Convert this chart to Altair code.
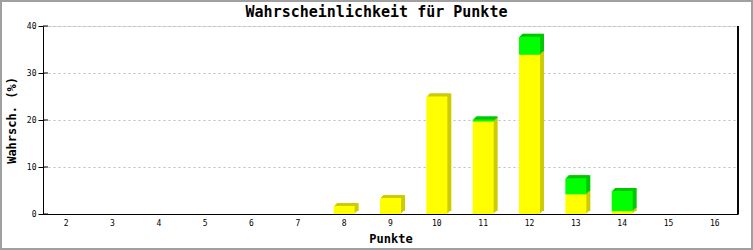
import altair as alt
import pandas as pd

chart_title = "Wahrscheinlichkeit für Punkte"
points = [str(p) for p in range(2, 17)]
yellow = [0, 0, 0, 0, 0, 0, 1.7, 3.4, 25.0, 19.7, 33.9, 4.2, 0.6, 0, 0]
green = [0, 0, 0, 0, 0, 0, 0, 0, 0, 0.4, 3.8, 3.4, 4.3, 0, 0]
y_ticks = [0, 10, 20, 30, 40]

rows = []
for p, yv, gv in zip(points, yellow, green):
    if yv > 0:
        rows.append({"p": p, "s": "gelb", "lo": 0.0, "hi": yv})
    if gv > 0:
        rows.append({"p": p, "s": "grün", "lo": yv, "hi": yv + gv})
df = pd.DataFrame(rows)
ticks_df = pd.DataFrame({"t": y_ticks})
title_df = pd.DataFrame({"text": [chart_title]})

W, H = 695, 188
FONT = "DejaVu Sans Mono"

xenc = alt.X("p:N", sort=points, scale=alt.Scale(domain=points, paddingInner=0, paddingOuter=0),
             axis=alt.Axis(title="Punkte", ticks=False, tickSize=0, labelPadding=5, labelAngle=0,
                           titleFont=FONT, titleFontWeight="bold", titleFontSize=12, titlePadding=6,
                           labelFont=FONT, labelFontSize=8, labelColor="black",
                           domainColor="black", grid=False))
yenc = alt.Y("lo:Q", scale=alt.Scale(domain=[0, 40], nice=False),
             axis=alt.Axis(title="Wahrsch. (%)", values=y_ticks, tickSize=5, tickColor="black",
                           domainColor="black", labelPadding=2, labelFont=FONT, labelFontSize=8,
                           labelColor="black", titleFont=FONT, titleFontWeight="bold",
                           titleFontSize=12, titlePadding=8, grid=True, gridColor="#bbbbbb",
                           gridDash=[2, 3]))

base = alt.Chart(df)
layers = []
offsets = [(1, -1), (2, -2), (3, -3), (4, -3)]
for series, scol in [("gelb", "#cccc00"), ("grün", "#00c800")]:
    for dx, dy in offsets:
        layers.append(base.transform_filter(alt.datum.s == series)
                      .mark_bar(size=21, color=scol, xOffset=dx, yOffset=dy, x2Offset=dx, y2Offset=dy)
                      .encode(x=xenc, y=yenc, y2="hi:Q"))
for series, fcol in [("gelb", "#ffff00"), ("grün", "#00ff00")]:
    layers.append(base.transform_filter(alt.datum.s == series)
                  .mark_bar(size=21, color=fcol)
                  .encode(x=xenc, y=yenc, y2="hi:Q"))

inner_ticks = alt.Chart(ticks_df).mark_rule(color="black").encode(
    y=alt.Y("t:Q"), x=alt.value(0), x2=alt.value(5))
right_line = alt.Chart(ticks_df).mark_rule(color="black").encode(
    x=alt.value(W), y=alt.value(0), y2=alt.value(H))
border = alt.Chart(ticks_df).mark_rect(filled=False, stroke="#a0a0a0", strokeWidth=2).encode(
    x=alt.value(-42), x2=alt.value(709), y=alt.value(-25), y2=alt.value(223))
title_mark = alt.Chart(title_df).mark_text(
    font=FONT, fontSize=15, fontWeight="bold", align="center", baseline="middle", color="black"
).encode(text="text:N", x=alt.value(333.5), y=alt.value(-14))

chart = alt.layer(*layers, inner_ticks, right_line, border, title_mark).properties(
    width=W, height=H,
    autosize=alt.AutoSizeParams(type="none"),
    padding={"left": 43, "top": 26, "right": 15, "bottom": 36},
).configure_view(stroke=None).configure(background="white")

chart.save("out.html", embed_options={"renderer": "svg", "actions": False})
